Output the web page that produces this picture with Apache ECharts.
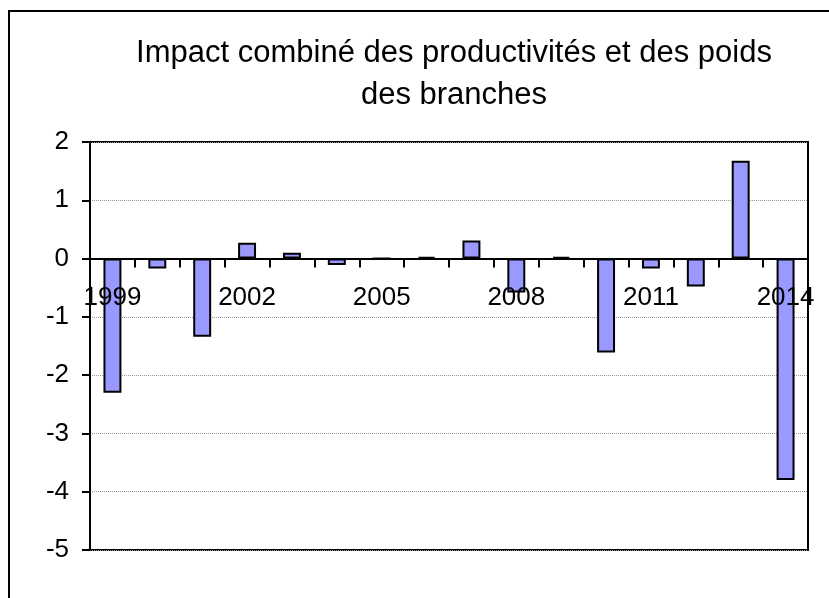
<!DOCTYPE html>
<html>
<head>
<meta charset="utf-8">
<script src="https://cdn.jsdelivr.net/npm/echarts@6/dist/echarts.min.js"></script>
<style>
  html, body { margin: 0; padding: 0; background: #fff; }
  #chart { width: 829px; height: 598px; }
</style>
</head>
<body>
<div id="chart"></div>
<script>
// années
const years = ['1999', '2000', '2001', '2002', '2003', '2004', '2005', '2006',
  '2007', '2008', '2009', '2010', '2011', '2012', '2013', '2014']
// impact combiné
const impact = [-2.3, -0.17, -1.34, 0.27, 0.1, -0.11, 0, 0.03,
  0.31, -0.58, 0.03, -1.61, -0.17, -0.48, 1.68, -3.8]

const titleText = 'Impact combiné des productivités et des poids\ndes branches'

const yMin = -5
const yMax = 2

const chart = echarts.init(document.getElementById('chart'))
const font = '"Liberation Sans", Arial, sans-serif'

const gridTop = 142
const gridBottom = 48
const plotH = 598 - gridTop - gridBottom
// axe des x remonté jusqu'à zéro (labels compris)
const zeroOffset = -plotH * (0 - yMin) / (yMax - yMin)

chart.setOption({
  animation: false,
  backgroundColor: '#fff',
  textStyle: { fontFamily: font },
  title: {
    text: titleText,
    left: 449,
    textAlign: 'center',
    top: 27,
    textStyle: {
      fontFamily: font,
      fontWeight: 'normal',
      fontSize: 31,
      lineHeight: 42,
      color: '#000'
    }
  },
  graphic: [{
    type: 'rect',
    shape: { x: 9, y: 11, width: 840, height: 620 },
    style: { fill: 'none', stroke: '#000', lineWidth: 2 },
    silent: true
  }],
  grid: {
    left: 90,
    right: 21,
    top: gridTop,
    bottom: gridBottom,
    show: true,
    borderColor: '#000',
    borderWidth: 2
  },
  xAxis: {
    type: 'category',
    data: years,
    offset: zeroOffset,
    z: 5,
    axisLine: { onZero: false, lineStyle: { color: '#000', width: 2 } },
    axisTick: { show: true, interval: 0, length: 9, lineStyle: { color: '#000', width: 2 } },
    axisLabel: { interval: 2, margin: 26, fontSize: 26, color: '#000', fontFamily: font }
  },
  yAxis: {
    type: 'value',
    min: yMin,
    max: yMax,
    interval: 1,
    axisLine: { show: true, lineStyle: { color: '#000', width: 2 } },
    axisTick: { show: true, length: 8, lineStyle: { color: '#000', width: 2 } },
    axisLabel: { margin: 21, fontSize: 26, color: '#000', fontFamily: font },
    splitLine: { show: true, lineStyle: { color: '#999', type: 'dotted', width: 1 } }
  },
  series: [{
    type: 'bar',
    data: impact,
    barWidth: '40%',
    itemStyle: { color: '#9999FF', borderColor: '#000', borderWidth: 2 }
  }]
})
</script>
</body>
</html>
